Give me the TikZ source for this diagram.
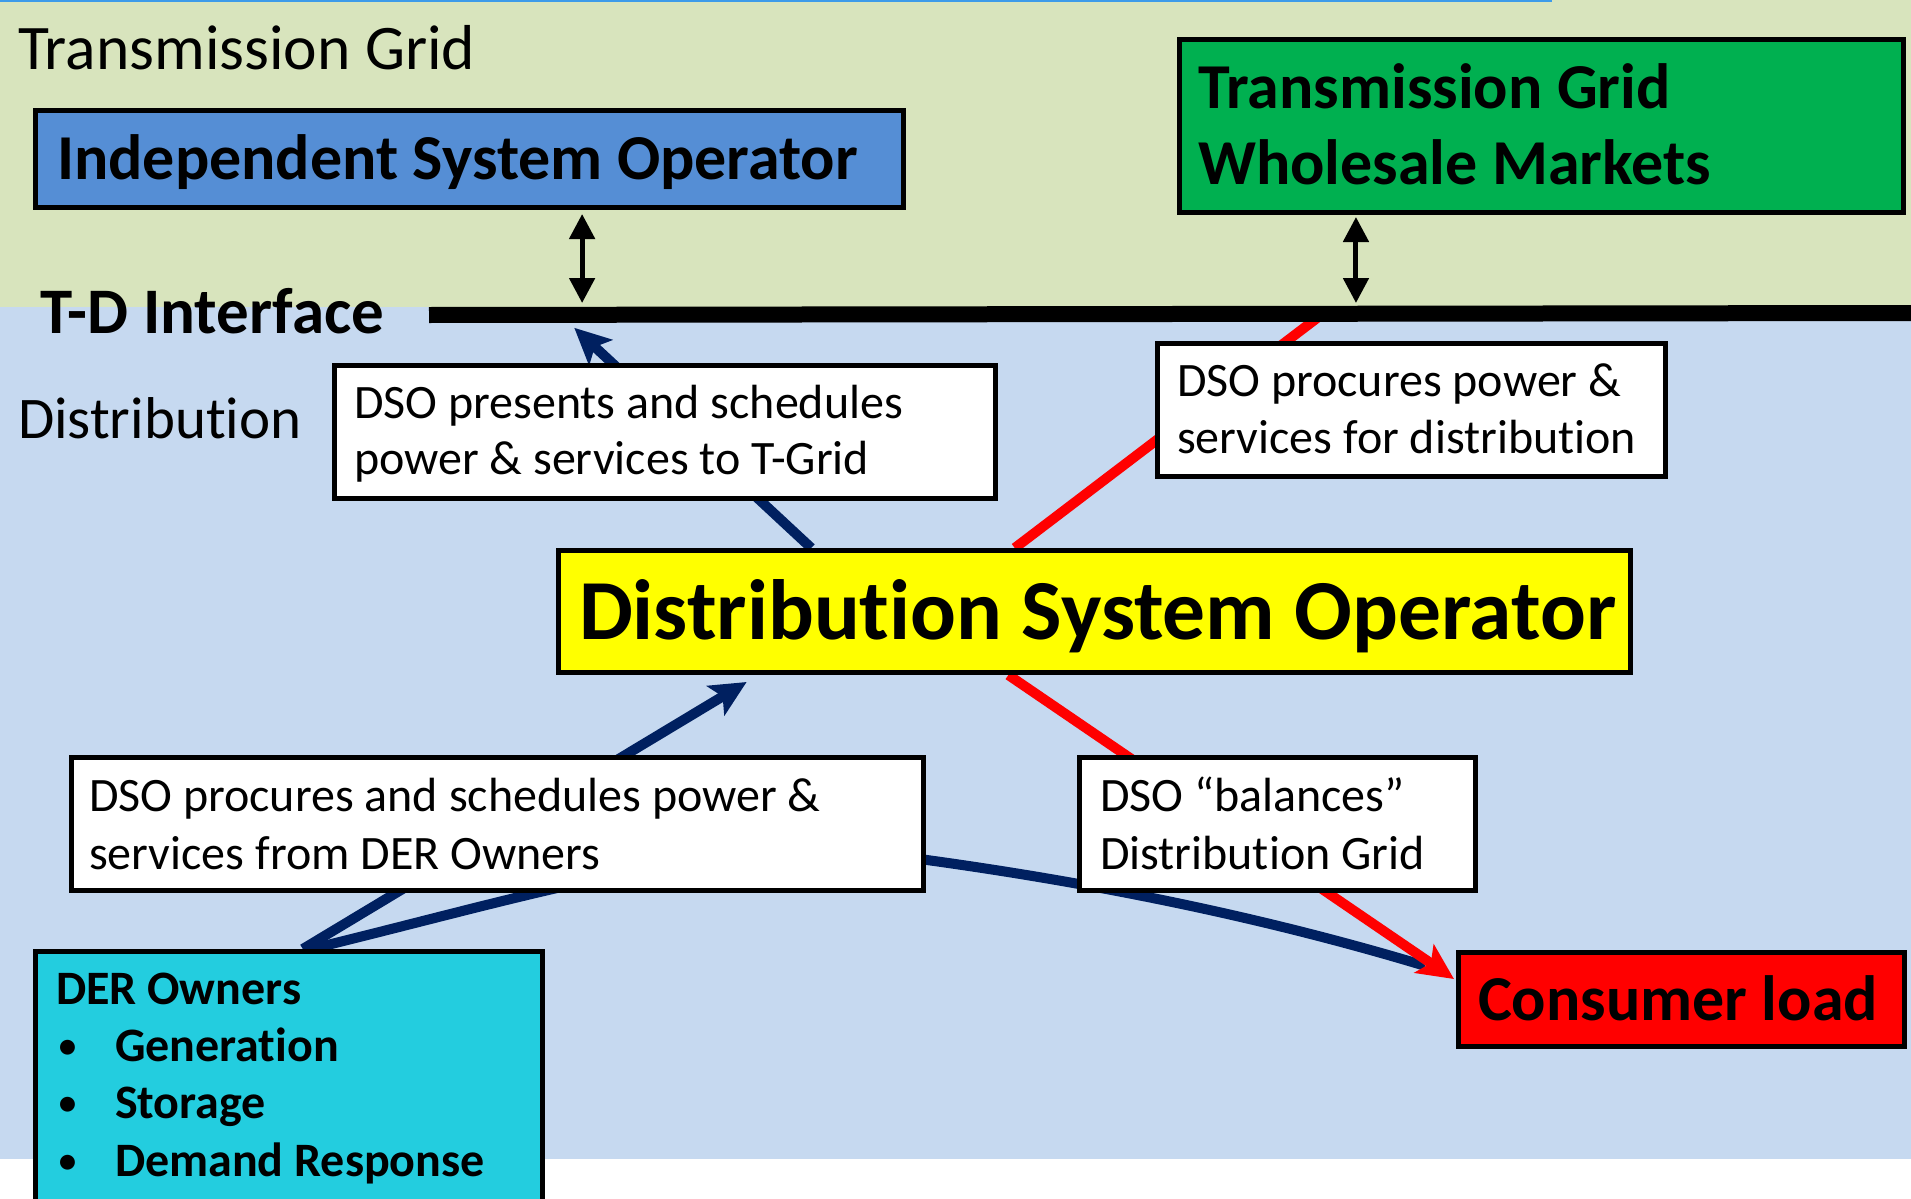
\documentclass[tikz,border=0pt]{standalone}
\usepackage{fontspec}
\setmainfont{Carlito}[Ligatures={NoCommon,NoContextual,NoRare},Contextuals={NoAlternate}]
\usetikzlibrary{arrows.meta,calc}

\pgfdeclarelayer{bands}
\pgfdeclarelayer{links}
\pgfsetlayers{bands,links,main}

\definecolor{gridgreen}{RGB}{216,228,189}
\definecolor{distblue}{RGB}{198,217,240}
\definecolor{topline}{RGB}{61,155,233}
\definecolor{isoblue}{RGB}{85,142,213}
\definecolor{marketgreen}{RGB}{0,176,80}
\definecolor{dsoyellow}{RGB}{255,255,0}
\definecolor{dercyan}{RGB}{35,205,223}
\definecolor{loadred}{RGB}{255,0,0}
\definecolor{linknavy}{RGB}{0,32,96}
\definecolor{linkred}{RGB}{255,0,0}

\newcommand\setfs[1]{\fontsize{#1pt}{#1pt}\selectfont}
% keeps "t" and "i" as separate glyphs
\newcommand\nolig{\kern0pt{}}

\begin{document}
\begin{tikzpicture}[x=1pt,y=-1pt,
  box/.style={draw=black, line width=5pt, rectangle, inner sep=0pt, anchor=north west},
  lbl/.style={anchor=base west, inner sep=0pt, outer sep=0pt, text=black},
  body/.style={lbl, font=\setfs{48}},
  bodybold/.style={lbl, font=\bfseries\setfs{48}},
  bullet/.style={lbl, font=\setfs{42}},
  heading/.style={lbl, font=\bfseries\setfs{64}},
  navylink/.style={draw=linknavy, line width=10pt},
  redlink/.style={draw=linkred, line width=10pt},
  bigtip/.style={-{Stealth[length=36pt,width=34pt,inset=8pt]}},
  twoway/.style={draw=black, line width=5pt,
    {Triangle[length=25pt,width=25pt]}-{Triangle[length=25pt,width=25pt]}}
]
\useasboundingbox (0,0) rectangle (1911,1199);

% background bands: transmission (top) and distribution (below)
\begin{pgfonlayer}{bands}
  \fill[gridgreen] (0,0) rectangle (1911,307);
  \fill[distblue] (0,307) rectangle (1911,1159);
  \fill[white] (0,1159) rectangle (1911,1199);
  \draw[topline, line width=3pt] (0,1) -- (1552,1);
\end{pgfonlayer}

% region titles
\node[lbl, font=\setfs{63.5}] (tgtitle) at (18,70) {Transmission Grid};
\node[lbl, font=\setfs{59}] (disttitle) at (18,438) {Distribut\nolig ion};
\node[lbl, font=\bfseries\setfs{65}] (tdtitle) at (40,333) {T-D Interface};

% boxes
\node[box, fill=isoblue, minimum width=868pt, minimum height=97pt] (iso) at (33,108) {};
\node[box, fill=marketgreen, minimum width=724pt, minimum height=173pt] (tgwm) at (1177,37) {};
\node[box, fill=white, minimum width=661pt, minimum height=133pt] (pres) at (332,363) {};
\node[box, fill=white, minimum width=508pt, minimum height=133pt] (proc) at (1155,341) {};
\node[box, fill=dsoyellow, minimum width=1072pt, minimum height=122pt] (dso) at (556,548) {};
\node[box, fill=white, minimum width=852pt, minimum height=133pt] (sched) at (69,755) {};
\node[box, fill=white, minimum width=396pt, minimum height=133pt] (bal) at (1077,755) {};
\node[box, fill=loadred, minimum width=446pt, minimum height=94pt] (load) at (1456,950) {};
\node[box, fill=dercyan, minimum width=507pt, minimum height=275pt] (der) at (33,949) {};

% box texts
\node[heading] (isotext) at (57,179) {Independent System Operator};
\node[heading] (tgwm1) at (1198,108) {Transmission Grid};
\node[heading] (tgwm2) at (1198,184) {Wholesale Markets};
\node[body] (pres1) at (354,418) {DSO presents and schedules};
\node[body] (pres2) at (354,474) {power \& services to T-Grid};
\node[body] (proc1) at (1177,396) {DSO procures power \&};
\node[body] (proc2) at (1177,453) {services for distribut\nolig ion};
\node[lbl, font=\bfseries\setfs{85.5}] (dsotext) at (579,639) {Distribut\nolig ion System Operator};
\node[body] (sched1) at (89,811) {DSO procures and schedules power \&};
\node[body] (sched2) at (89,869) {services from DER Owners};
\node[body] (bal1) at (1100,811) {DSO “balances”};
\node[body] (bal2) at (1100,869) {Distribut\nolig ion Grid};
\node[heading] (loadtext) at (1478,1020) {Consumer load};
\node[bodybold] (der0) at (56,1004) {DER Owners};
\node[bullet] (derb1) at (57,1059) {•};
\node[bullet] (derb2) at (57,1116) {•};
\node[bullet] (derb3) at (57,1174) {•};
\node[bodybold] (der1) at (115,1061) {Generat\nolig ion};
\node[bodybold] (der2) at (115,1118) {Storage};
\node[bodybold] (der3) at (115,1176) {Demand Response};

% T-D interface line ends
\coordinate (tdL) at (429,315);
\coordinate (tdR) at (1911,313);

% links running behind the boxes
\begin{pgfonlayer}{links}
  % DSO -> T-D interface
  \draw[navylink, bigtip] ($(dso.north west)!0.237!(dso.north east)$) -- ($(tdL)!0.098!(tdR)+(0,13)$);
  % DSO -- wholesale side of the interface
  \draw[redlink] ($(dso.north west)!0.426!(dso.north east)$) -- ($(tdL)!0.603!(tdR)$);
  % DER owners -> DSO
  \draw[navylink, bigtip] ($(der.north west)!0.527!(der.north east)$) -- ($(dso.south west)!0.177!(dso.south east)+(0,7)$);
  % DER owners -- consumer load
  \draw[navylink] ($(der.north west)!0.543!(der.north east)$)
     .. controls (561,888) and (727,832) .. (927,860)
     .. controls (1108,885) and (1273,920) .. ($(load.north west)!0.16!(load.south west)+(-31,0)$);
  % DSO -> consumer load
  \draw[redlink, bigtip] ($(dso.south west)!0.42!(dso.south east)$) -- ($(load.north west)!0.293!(load.south west)+(-2,0)$);
\end{pgfonlayer}

% T-D interface
\draw[line width=16pt] (tdL) -- (tdR);

% two-way links between transmission boxes and the interface
\coordinate (isoLink) at ($(iso.south west)!0.629!(iso.south east)+(0,4)$);
\coordinate (isoTD) at ($(isoLink |- tdL)+(0,-12)$);
\draw[twoway] (isoLink) -- (isoTD);
\coordinate (tgwmLink) at ($(tgwm.south west)!0.2455!(tgwm.south east)+(0,2)$);
\coordinate (tgwmTD) at ($(tgwmLink |- tdL)+(0,-12)$);
\draw[twoway] (tgwmLink) -- (tgwmTD);
\end{tikzpicture}
\end{document}
